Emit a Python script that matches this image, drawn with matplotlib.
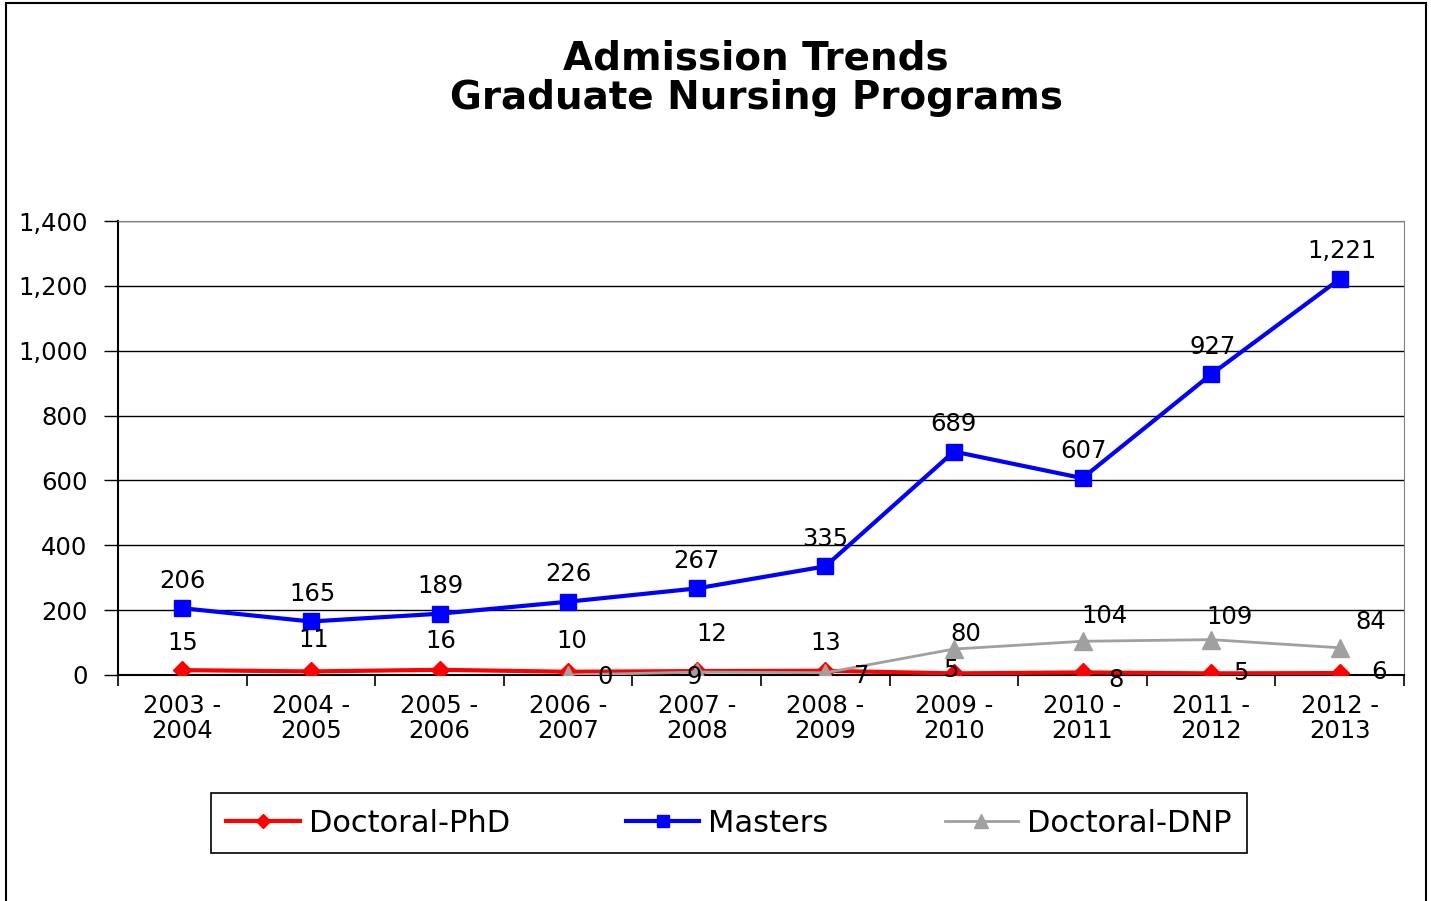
import matplotlib
matplotlib.use('Agg')
import matplotlib.pyplot as plt
from matplotlib.patches import Rectangle
from matplotlib.ticker import FuncFormatter, MultipleLocator, FixedLocator

plt.rcParams.update({
    'font.family': 'DejaVu Sans',
    'font.size': 14,
})

# Academic years shown on the x axis
years = ["2003 -\n2004", "2004 -\n2005", "2005 -\n2006", "2006 -\n2007", "2007 -\n2008",
         "2008 -\n2009", "2009 -\n2010", "2010 -\n2011", "2011 -\n2012", "2012 -\n2013"]

# Admissions per program
phd = [15, 11, 16, 10, 12, 13, 5, 8, 5, 6]
masters = [206, 165, 189, 226, 267, 335, 689, 607, 927, 1221]
dnp_years = years[3:]
dnp = [0, 9, 7, 80, 104, 109, 84]

# label offsets (pixels) - placement only
phd_off = [(0, 27), (3, 31), (1, 29), (4, 31), (15, 37), (0, 28), (-3, 3), (34, -8), (30, 0), (39, 1)]
mas_off = [(0, 27), (2, 27), (1, 28), (0, 28), (0, 27), (0, 27), (0, 28), (1, 27), (2, 27), (2, 28)]
dnp_off = [(37, -2), (-2, -5), (36, -3), (12, 15), (22, 25), (18, 23), (31, 26)]

fig = plt.figure(figsize=(14.31, 9.01), dpi=100)
ax = fig.add_axes([118/1431, 1 - 675/901, (1404 - 118)/1431, (675 - 221)/901])

xi = list(range(len(years)))
dxi = [years.index(y) for y in dnp_years]

ax.plot(xi, phd, color='#FF0000', lw=3, marker='D', ms=9, label='Doctoral-PhD', zorder=3)
ax.plot(dxi, dnp, color='#A0A0A0', lw=2, marker='^', ms=13, label='Doctoral-DNP', zorder=4)
ax.plot(xi, masters, color='#0000FF', lw=3, marker='s', ms=11, label='Masters', zorder=5)

px = 0.72  # pixels -> points
for series, xs, offs in [(phd, xi, phd_off), (masters, xi, mas_off), (dnp, dxi, dnp_off)]:
    for x, v, (dx, dy) in zip(xs, series, offs):
        ax.annotate(f"{v:,}", (x, v), xytext=(dx * px, dy * px), textcoords='offset points',
                    ha='center', va='center', fontsize=17.5, zorder=6)

ax.set_xlim(-0.5, len(years) - 0.5)
ax.set_ylim(0, 1400)
ax.yaxis.set_major_locator(MultipleLocator(200))
ax.yaxis.set_major_formatter(FuncFormatter(lambda v, p: f"{int(v):,}"))
ax.grid(axis='y', color='black', lw=1)
ax.set_axisbelow(True)

ax.set_xticks(xi)
ax.set_xticklabels(years, fontsize=17.5, linespacing=1.05)
ax.tick_params(axis='x', which='major', length=0, pad=14)
ax.xaxis.set_minor_locator(FixedLocator([i - 0.5 for i in range(len(years) + 1)]))
ax.tick_params(axis='x', which='minor', length=8, width=1.2, direction='out')
ax.tick_params(axis='y', length=10, width=1, pad=12, labelsize=17.5)

ax.spines['top'].set_color('#808080')
ax.spines['right'].set_color('#808080')
ax.spines['left'].set_linewidth(1.5)
ax.spines['bottom'].set_linewidth(1.5)

fig.text(756/1431, 1 - 78/901, "Admission Trends\nGraduate Nursing Programs", ha='center', va='center',
         fontsize=28, fontweight='bold', linespacing=1.05)

h, l = ax.get_legend_handles_labels()
order = [0, 2, 1]
leg = fig.legend([h[i] for i in order], [l[i] for i in order], loc='center',
                 bbox_to_anchor=(729/1431, 1 - 823/901), ncol=3, fontsize=22, frameon=True,
                 fancybox=False, edgecolor='black', framealpha=1, handlelength=2.4, columnspacing=3.8,
                 borderpad=0.5, borderaxespad=0, handletextpad=0.3, markerscale=0.8)
leg.get_frame().set_linewidth(1.2)

fig.add_artist(Rectangle((6/1431, -0.01), (1426 - 6)/1431, 1.01 - 3/901, transform=fig.transFigure,
                         fill=False, edgecolor='black', lw=1.5))

fig.savefig('out.png', dpi=100)
